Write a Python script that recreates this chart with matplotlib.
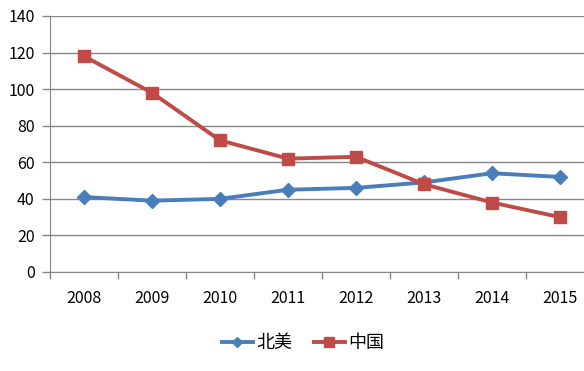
import matplotlib
matplotlib.use("Agg")
import matplotlib.pyplot as plt

plt.rcParams['font.family'] = ['Noto Sans CJK SC', 'DejaVu Sans']

years = ["2008", "2009", "2010", "2011", "2012", "2013", "2014", "2015"]
north_america = [41, 39, 40, 45, 46, 49, 54, 52]
china = [118, 98, 72, 62, 63, 48, 38, 30]

blue = "#4A7EBB"
red = "#BE4B48"
grid = "#878787"

fig = plt.figure(figsize=(5.84, 3.71), dpi=100)
ax = fig.add_axes([50 / 584, 99 / 371, 544 / 584, 256 / 371])

x = list(range(len(years)))
ax.plot(x, north_america, color=blue, lw=2.8, marker="D", ms=7,
        label="北美", zorder=3)
ax.plot(x, china, color=red, lw=2.8, marker="s", ms=9,
        label="中国", zorder=3)

ax.set_xlim(-0.5, len(years) - 0.5)
ax.set_ylim(0, 140)
ax.set_yticks(range(0, 141, 20))
ax.yaxis.grid(True, color=grid, lw=1)
ax.set_axisbelow(True)

ax.set_xticks([i - 0.5 for i in range(len(years) + 1)])
ax.set_xticklabels([])
ax.set_xticks(x, minor=True)
ax.set_xticklabels(years, minor=True)
ax.tick_params(axis="x", which="major", length=5, color=grid, width=1)
ax.tick_params(axis="x", which="minor", length=0, pad=13, labelsize=11.5)
ax.tick_params(axis="y", length=6, color=grid, width=1, labelsize=11.5, pad=5)

for s in ["top", "right"]:
    ax.spines[s].set_visible(False)
for s in ["left", "bottom"]:
    ax.spines[s].set_color(grid)

fig.legend(loc="center", bbox_to_anchor=(303 / 584, 1 - 343 / 371), ncol=2,
           frameon=False, fontsize=13, handlelength=1.7, columnspacing=1.2,
           handletextpad=0.2, markerscale=0.8)

fig.savefig("out.png", dpi=100)
